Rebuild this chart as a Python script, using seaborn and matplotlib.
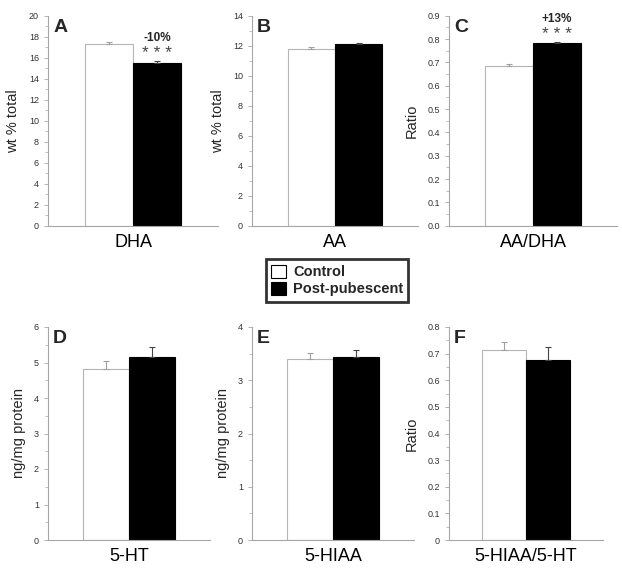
import numpy as np
import pandas as pd
import matplotlib
matplotlib.use("Agg")
import matplotlib.pyplot as plt
import seaborn as sns
from matplotlib.ticker import MultipleLocator, FuncFormatter
from matplotlib.patches import Patch

sns.set_style("white")
plt.rcParams['font.family'] = ['Liberation Sans', 'DejaVu Sans']

groups = ["Control", "Post-pubescent"]
panel_letters = ["A", "B", "C", "D", "E", "F"]
measures = ["DHA", "AA", "AA/DHA", "5-HT", "5-HIAA", "5-HIAA/5-HT"]
ylabels = ["wt % total", "wt % total", "Ratio", "ng/mg protein", "ng/mg protein", "Ratio"]
control_vals = [17.35, 11.8, 0.683, 4.83, 3.40, 0.712]
post_vals = [15.5, 12.1, 0.783, 5.16, 3.44, 0.675]
control_err = [0.16, 0.11, 0.011, 0.21, 0.11, 0.03]
post_err = [0.19, 0.11, 0.004, 0.28, 0.13, 0.05]
ymax = [20, 14, 0.9, 6, 4, 0.8]
ystep = [2, 2, 0.1, 1, 1, 0.1]
annotations = {0: "-10%", 2: "+13%"}
stars = {0: "* * *", 2: "* * *"}

W, H = 622, 570
fig = plt.figure(figsize=(W / 100, H / 100), dpi=100)

def rect(l, r, top, bot):
    return [l / W, 1 - bot / H, (r - l) / W, (bot - top) / H]

rects = [
    rect(48, 218, 15.7, 225.7),
    rect(252, 418, 15.7, 225.7),
    rect(449, 617, 15.7, 225.7),
    rect(48, 210, 327, 540),
    rect(252, 414, 327, 540),
    rect(449, 603, 327, 540),
]

spine_c = "#a6a6a6"
for i in range(6):
    ax = fig.add_axes(rects[i])
    df = pd.DataFrame({
        "measure": [measures[i]] * 2,
        "group": groups,
        "value": [control_vals[i], post_vals[i]],
    })
    sns.barplot(data=df, x="measure", y="value", hue="group",
                palette={"Control": "white", "Post-pubescent": "black"},
                hue_order=groups, width=0.57, errorbar=None, legend=False,
                ax=ax, saturation=1)
    bars = ax.patches[:2]
    bars[0].set_edgecolor("#b5b5b5"); bars[0].set_linewidth(0.8)
    bars[1].set_edgecolor("black"); bars[1].set_linewidth(0.8)
    errs = [control_err[i], post_err[i]]
    vals = [control_vals[i], post_vals[i]]
    ecols = ["#a0a0a0", "#444444"]
    for b, v, e, c in zip(bars, vals, errs, ecols):
        cx = b.get_x() + b.get_width() / 2
        ax.errorbar([cx], [v], yerr=[[0], [e]], fmt="none", ecolor=c,
                    elinewidth=0.8, capsize=2, capthick=0.8)
    ax.set_xlim(-0.5, 0.5)
    ax.set_ylim(0, ymax[i])
    ax.yaxis.set_major_locator(MultipleLocator(ystep[i]))
    ax.yaxis.set_minor_locator(MultipleLocator(ystep[i] / 2))
    if i == 2:
        ax.yaxis.set_major_formatter(FuncFormatter(lambda v, p: f"{v:.1f}"))
    elif i == 5:
        ax.yaxis.set_major_formatter(FuncFormatter(lambda v, p: "0" if abs(v) < 1e-9 else f"{v:.1f}"))
    else:
        ax.yaxis.set_major_formatter(FuncFormatter(lambda v, p: f"{v:.0f}"))
    for s in ["top", "right"]:
        ax.spines[s].set_visible(False)
    for s in ["left", "bottom"]:
        ax.spines[s].set_color(spine_c)
        ax.spines[s].set_linewidth(0.8)
    ax.tick_params(axis="y", which="major", direction="out", length=3, width=0.6,
                   color=spine_c, labelsize=6.5, labelcolor="#333333", pad=3.5, left=True)
    ax.tick_params(axis="y", which="minor", direction="out", length=2, width=0.5,
                   color=spine_c, left=True)
    ax.tick_params(axis="x", length=0, labelsize=13, pad=6, labelcolor="black")
    ax.set_xlabel("")
    ax.set_ylabel(ylabels[i], fontsize=10.5, labelpad=6)
    ax.text(0.03, 0.985, panel_letters[i], transform=ax.transAxes, fontsize=14,
            fontweight="bold", va="top", ha="left")
    if i in annotations:
        b = bars[1]
        cx = b.get_x() + b.get_width() / 2
        top = vals[1] + errs[1]
        ax.annotate(stars[i], (cx, top), xytext=(0, 5.5), textcoords="offset points",
                    ha="center", va="center", fontsize=12.5, color="#444444")
        ax.annotate(annotations[i], (cx, top), xytext=(0, 16.5), textcoords="offset points",
                    ha="center", va="center", fontsize=8.5, fontweight="bold")

handles = [Patch(facecolor="white", edgecolor="black", linewidth=0.8),
           Patch(facecolor="black", edgecolor="black", linewidth=0.8)]
leg = fig.legend(handles, groups, loc="center", bbox_to_anchor=(337 / W, 1 - 280.5 / H),
                 frameon=True, fancybox=False, prop={"weight": "bold", "size": 10.5},
                 handlelength=1.0, handleheight=1.0, handletextpad=0.5,
                 borderpad=0.35, labelspacing=0.2)
leg.get_frame().set_edgecolor("black")
leg.get_frame().set_linewidth(2)

fig.savefig("out.png", dpi=100)
